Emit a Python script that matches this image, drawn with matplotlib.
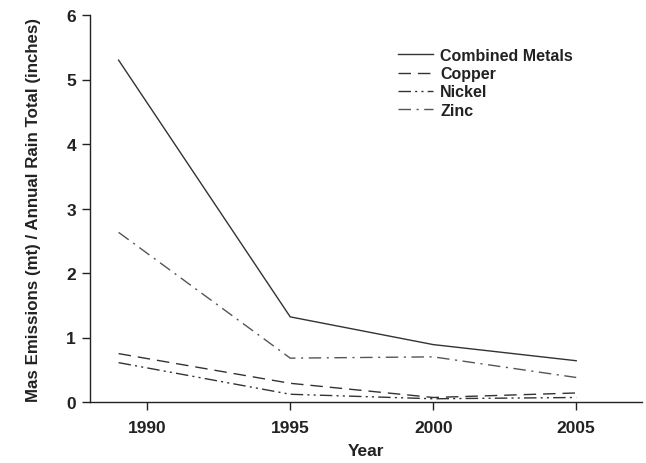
import matplotlib
matplotlib.use('Agg')
import matplotlib.pyplot as plt

years = [1989, 1995, 2000, 2005]
combined = [5.30, 1.32, 0.89, 0.64]
copper = [0.75, 0.29, 0.07, 0.14]
nickel = [0.61, 0.12, 0.05, 0.07]
zinc = [2.63, 0.68, 0.70, 0.38]
xticks = [1990, 1995, 2000, 2005]
yticks = [0, 1, 2, 3, 4, 5, 6]

plt.rcParams['font.family'] = ['Liberation Sans', 'DejaVu Sans']

fig = plt.figure(figsize=(6.46, 4.64), dpi=100)
ax = fig.add_axes([90/646, 61/464, 552/646, 387/464])

ax.plot(years, combined, color='#333333', lw=1.0, ls='-', label='Combined Metals')
ax.plot(years, copper, color='#333333', lw=1.0, ls=(0, (9, 5)), label='Copper')
ax.plot(years, nickel, color='#333333', lw=1.0, ls=(0, (9, 3, 1.5, 3, 1.5, 3)), label='Nickel')
ax.plot(years, zinc, color='#555555', lw=1.0, ls=(0, (9, 4, 1.5, 4)), label='Zinc')

ax.set_xlim(1988, 2007.3)
ax.set_ylim(0, 6)
ax.set_xticks(xticks)
ax.set_yticks(yticks)
ax.spines['top'].set_visible(False)
ax.spines['right'].set_visible(False)
for s in ['left', 'bottom']:
    ax.spines[s].set_linewidth(1.0)
    ax.spines[s].set_color('#222222')
ax.tick_params(direction='out', length=6, width=1.0, color='#222222', labelsize=12.5,
               labelcolor='#222222')
for lab in ax.get_xticklabels() + ax.get_yticklabels():
    lab.set_fontweight('bold')
ax.tick_params(axis='x', pad=7)
ax.tick_params(axis='y', pad=4)

ax.set_xlabel('Year', fontsize=12.5, fontweight='bold', labelpad=6, color='#222222')
ax.set_ylabel('Mas Emissions (mt) / Annual Rain Total (inches)', fontsize=12.2,
              fontweight='bold', labelpad=18, color='#222222')

leg = ax.legend(loc='upper left', bbox_to_anchor=(398/646, 1 - 49/464), bbox_transform=fig.transFigure,
                frameon=False, prop={'weight': 'bold', 'size': 11.5},
                handlelength=2.2, handletextpad=0.45, labelspacing=0.2,
                borderaxespad=0, borderpad=0)
for t in leg.get_texts():
    t.set_color('#222222')

fig.savefig('out.png', dpi=100)
